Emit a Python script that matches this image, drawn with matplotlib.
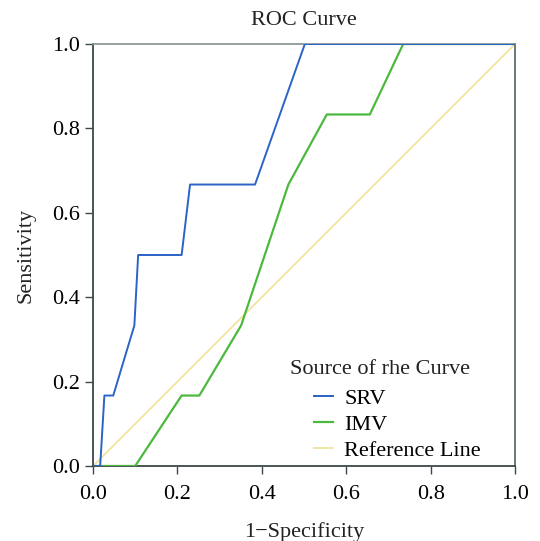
import matplotlib
matplotlib.use("Agg")
import matplotlib.pyplot as plt

plt.rcParams['font.family'] = ['Liberation Serif', 'DejaVu Serif']

srv_x = [0.0, 0.017, 0.027, 0.048, 0.098, 0.107, 0.21, 0.23, 0.384, 0.502, 1.0]
srv_y = [0.0, 0.0, 0.167, 0.167, 0.333, 0.5, 0.5, 0.667, 0.667, 1.0, 1.0]
imv_x = [0.0, 0.10, 0.21, 0.252, 0.351, 0.463, 0.554, 0.656, 0.735, 1.0]
imv_y = [0.0, 0.0, 0.167, 0.167, 0.333, 0.667, 0.833, 0.833, 1.0, 1.0]
ref_x = [0.0, 1.0]
ref_y = [0.0, 1.0]
ticks = [0.0, 0.2, 0.4, 0.6, 0.8, 1.0]

W, H = 540, 541
fig = plt.figure(figsize=(W / 100, H / 100), dpi=100)
ax = fig.add_axes([93 / W, 1 - 466 / H, (515 - 93) / W, (466 - 44) / H])

ax.plot(ref_x, ref_y, color='#f0e4a0', lw=1.3, label='Reference Line', zorder=2)
ax.plot(imv_x, imv_y, color='#4cb93e', lw=1.6, label='IMV', zorder=3)
ax.plot(srv_x, srv_y, color='#2b63c6', lw=1.4, label='SRV', zorder=4)

ax.set_xlim(0, 1)
ax.set_ylim(0, 1)
ax.set_xticks(ticks)
ax.set_yticks(ticks)
ax.set_xticklabels([f'{t:.1f}' for t in ticks])
ax.set_yticklabels([f'{t:.1f}' for t in ticks])
ax.tick_params(direction='out', length=5.5, width=1.0, labelsize=16, color='#3d4848')
ax.tick_params(axis='x', pad=8)
ax.tick_params(axis='y', pad=4)

for side, c in [('left', '#3d4848'), ('bottom', '#3d4848'), ('top', '#8c9898'), ('right', '#5f6e6e')]:
    ax.spines[side].set_color(c)
    ax.spines[side].set_linewidth(1.3)

ax.set_title('ROC Curve', fontsize=16, pad=14, color='#222222')
ax.set_xlabel('1\u2212Specificity', fontsize=16, labelpad=13, color='#222222')
ax.set_ylabel('Sensitivity', fontsize=16, labelpad=12, color='#222222')

handles, labels = ax.get_legend_handles_labels()
order = [2, 1, 0]
leg = ax.legend([handles[i] for i in order], [labels[i] for i in order],
                loc='upper left', bbox_to_anchor=(303 / W, 1 - 377 / H),
                bbox_transform=fig.transFigure, frameon=False, fontsize=16,
                handlelength=0.85, handletextpad=0.5, labelspacing=0.25,
                borderpad=0.0)
fig.text(290 / W, 1 - 370 / H, 'Source of rhe Curve', fontsize=16, va='center',
         ha='left', color='#222222')

fig.savefig('out.png', dpi=100)
